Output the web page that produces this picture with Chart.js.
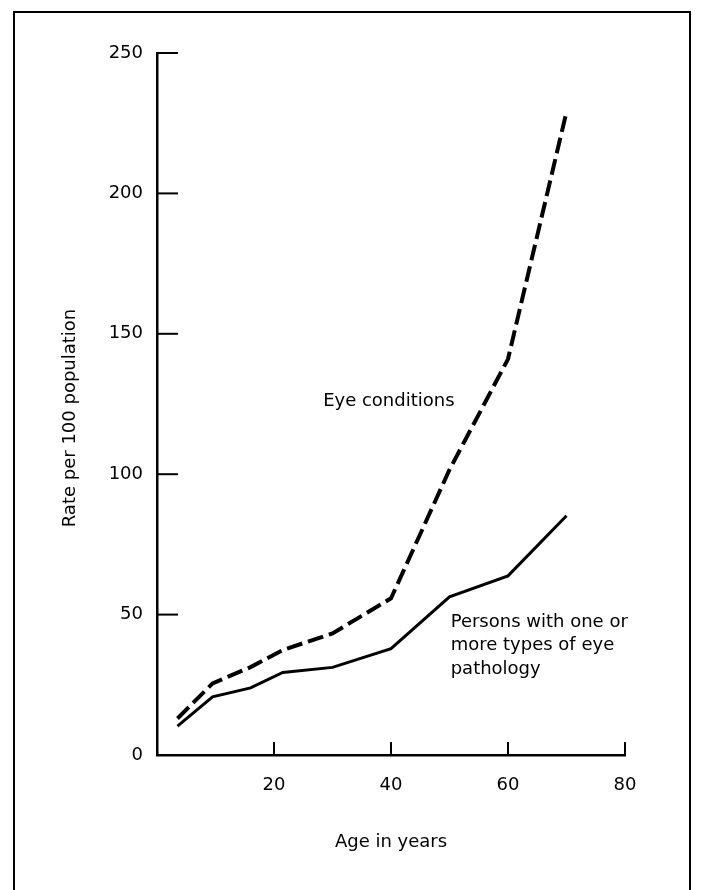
<!DOCTYPE html>
<html><head><meta charset="utf-8">
<script src="https://cdn.jsdelivr.net/npm/chart.js@4"></script>
<style>
html,body{margin:0;padding:0;background:#fff;}
#wrap{position:relative;width:704px;height:890px;overflow:hidden;background:#fff;}
#frame{position:absolute;left:13px;top:11px;width:674px;height:900px;border:2px solid #000;}
canvas{position:absolute;left:0;top:0;}
</style></head><body>
<div id="wrap"><div id="frame"></div><canvas id="c" width="704" height="890"></canvas></div>
<script>
// ---- data ----
const ages = [3.5, 9.5, 16, 21.5, 30, 40, 50, 60, 70];
const eyeConditions = [13, 25.5, 31.3, 37.4, 43.3, 55.8, 101.6, 141, 229];
const eyePathology = [10.3, 20.7, 23.9, 29.4, 31.2, 37.9, 56.3, 63.8, 85.2];
const xTicks = [20, 40, 60, 80];
const yTicks = [0, 50, 100, 150, 200, 250];
const xTitle = 'Age in years';
const yTitle = 'Rate per 100 population';
const seriesNames = ['Eye conditions', 'Persons with one or more types of eye pathology'];
// label anchors in data units (age, rate) and text lines
const labelAnchors = [
  {x: 28.4, y: 126, lines: ['Eye conditions']},
  {x: 50.2, y: 47.3, lines: ['Persons with one or', 'more types of eye', 'pathology']}
];

const FONT = '"DejaVu Sans", "Liberation Sans", sans-serif';
const INK = '#000';

const toPts = (xs, ys) => xs.map((v, i) => ({x: v, y: ys[i]}));

const decorations = {
  id: 'decorations',
  afterDraw(chart) {
    const {ctx, scales: {x, y}} = chart;
    ctx.save();
    ctx.strokeStyle = INK;
    ctx.lineWidth = 2;
    x.ticks.forEach(t => {
      const px = x.getPixelForValue(t.value);
      ctx.beginPath(); ctx.moveTo(px, y.bottom); ctx.lineTo(px, y.bottom - 13); ctx.stroke();
    });
    y.ticks.forEach(t => {
      if (t.value === 0) return;
      const py = y.getPixelForValue(t.value);
      ctx.beginPath(); ctx.moveTo(x.left, py); ctx.lineTo(x.left + 21, py); ctx.stroke();
    });
    ctx.fillStyle = INK;
    ctx.font = '18px ' + FONT;
    ctx.textAlign = 'left';
    ctx.textBaseline = 'middle';
    labelAnchors.forEach(a => {
      const px = x.getPixelForValue(a.x);
      const py = y.getPixelForValue(a.y);
      a.lines.forEach((l, i) => ctx.fillText(l, px, py + i * 23.5));
    });
    // y axis title
    ctx.translate(70, 418);
    ctx.rotate(-Math.PI / 2);
    ctx.textAlign = 'center';
    ctx.fillText(yTitle, 0, 0);
    ctx.restore();
  }
};

new Chart(document.getElementById('c'), {
  type: 'line',
  data: {
    datasets: [
      {label: seriesNames[0], data: toPts(ages, eyeConditions), borderColor: INK, borderWidth: 4,
       borderDash: [16, 6], pointRadius: 0, tension: 0, fill: false},
      {label: seriesNames[1], data: toPts(ages, eyePathology), borderColor: INK, borderWidth: 3,
       pointRadius: 0, tension: 0, fill: false}
    ]
  },
  options: {
    responsive: false,
    animation: false,
    devicePixelRatio: 1,
    layout: {padding: {top: 53, right: 79, left: 0, bottom: 0}},
    plugins: {legend: {display: false}, tooltip: {enabled: false}},
    scales: {
      x: {
        type: 'linear', min: 0, max: 80, position: 'bottom',
        afterBuildTicks: s => { s.ticks = xTicks.map(v => ({value: v})); },
        afterFit: s => { s.height = 135; },
        grid: {display: false, drawTicks: false},
        border: {display: true, color: INK, width: 2.5},
        ticks: {color: INK, padding: 20, font: {family: FONT, size: 18}, maxRotation: 0},
        title: {display: true, text: xTitle, color: INK, font: {family: FONT, size: 18},
                padding: {top: 0, bottom: 37}}
      },
      y: {
        type: 'linear', min: 0, max: 250,
        afterBuildTicks: s => { s.ticks = yTicks.map(v => ({value: v})); },
        afterFit: s => { s.width = 157; },
        grid: {display: false, drawTicks: false},
        border: {display: true, color: INK, width: 2.5},
        ticks: {color: INK, padding: 14, font: {family: FONT, size: 18}}
      }
    }
  },
  plugins: [decorations]
});
</script>
</body></html>
